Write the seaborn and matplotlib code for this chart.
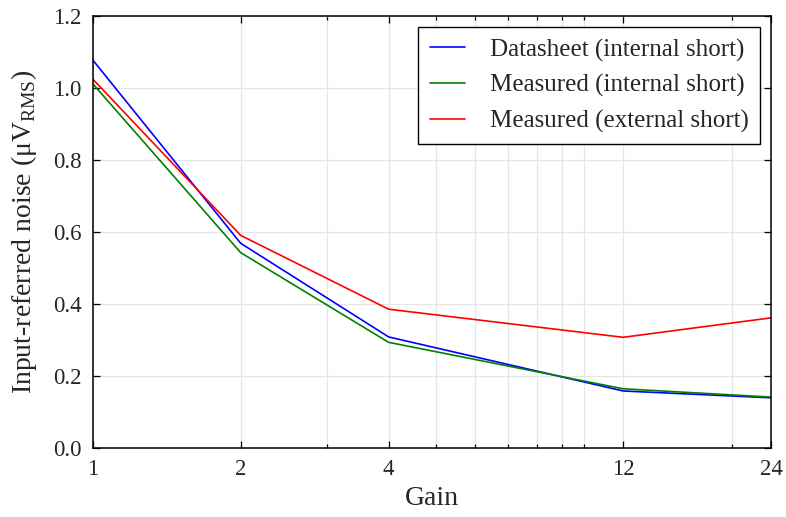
import pandas as pd
import numpy as np
import matplotlib
matplotlib.use("Agg")
import matplotlib.pyplot as plt
import seaborn as sns
from matplotlib.ticker import FixedLocator, NullFormatter

# Werte
gain = [1, 2, 4, 12, 24]
datasheet = [1.078, 0.569, 0.309, 0.159, 0.140]
measured_int = [1.012, 0.543, 0.294, 0.165, 0.142]
measured_ext = [1.025, 0.591, 0.386, 0.308, 0.362]
series_names = ["Datasheet (internal short)", "Measured (internal short)", "Measured (external short)"]
colors = ["#0000ff", "#008000", "#ff0000"]

df = pd.DataFrame({
    "Gain": gain * 3,
    "Noise": datasheet + measured_int + measured_ext,
    "Series": [series_names[0]] * 5 + [series_names[1]] * 5 + [series_names[2]] * 5,
})

sns.set_style("ticks")
plt.rcParams["font.family"] = ["Liberation Serif", "DejaVu Serif"]
plt.rcParams["mathtext.fontset"] = "custom"
plt.rcParams["mathtext.rm"] = "Liberation Serif"
plt.rcParams["xtick.direction"] = "in"
plt.rcParams["ytick.direction"] = "in"

fig, ax = plt.subplots(figsize=(7.86, 5.17), dpi=100)
sns.lineplot(data=df, x="Gain", y="Noise", hue="Series", palette=colors, linewidth=1.2, ax=ax)

ax.set_xscale("log")
ax.set_xlim(1, 24)
ax.set_ylim(0, 1.2)
ax.xaxis.set_major_locator(FixedLocator(gain))
ax.set_xticklabels([str(g) for g in gain])
ax.xaxis.set_minor_locator(FixedLocator([3, 5, 6, 7, 8, 9, 10, 20]))
ax.xaxis.set_minor_formatter(NullFormatter())
ax.set_yticks(np.arange(0, 1.21, 0.2))
ax.set_yticklabels([f"{v:.1f}" for v in np.arange(0, 1.21, 0.2)])

ax.grid(True, which="both", color="#e6e6e6", linewidth=0.9)
ax.set_axisbelow(True)
ax.tick_params(which="both", top=True, right=True, labelsize=16.5, length=5, width=0.9, color="black", pad=8)
ax.tick_params(which="minor", length=3)
for s in ax.spines.values():
    s.set_color("black")
    s.set_linewidth(1.1)

ax.set_xlabel("Gain", fontsize=20, labelpad=4)
ax.set_ylabel(r"Input-referred noise (μV$_{\mathrm{RMS}}$)", fontsize=20, labelpad=10)

leg = ax.legend(loc="upper right", fontsize=18, frameon=True, fancybox=False,
                edgecolor="black", framealpha=1, handlelength=1.4, handletextpad=1.0,
                borderpad=0.45, labelspacing=0.5, borderaxespad=0.45)
leg.get_frame().set_linewidth(1.0)

plt.subplots_adjust(left=0.118, right=0.981, top=0.969, bottom=0.133)
plt.savefig("out.png", dpi=100)
